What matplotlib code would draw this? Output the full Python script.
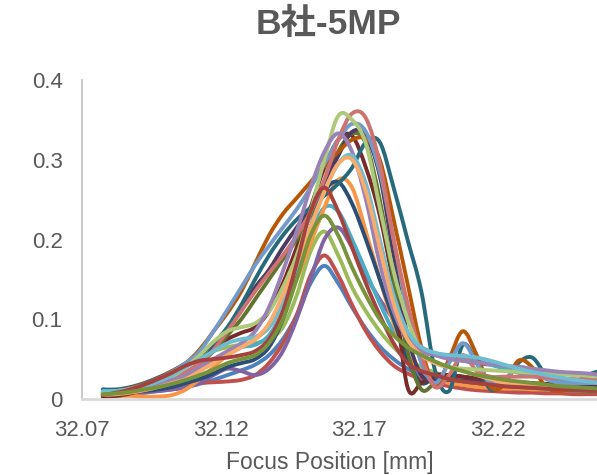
import numpy as np
import matplotlib
matplotlib.use("Agg")
import matplotlib.pyplot as plt
from matplotlib.path import Path
from matplotlib.patches import PathPatch

plt.rcParams['font.family'] = ['Liberation Sans', 'Noto Sans CJK JP']

# focus positions [mm], 0.005 mm step
focus = np.round(32.0775 + 0.005 * np.arange(37), 4)

s_blue = [.004, .005, .006, .008, .010, .012, .015, .019, .024, .030,
          .036, .043, .055, .075, .105, .145, .167, .145, .115, .088,
          .066, .050, .038, .030, .025, .021, .018, .016, .014, .013,
          .012, .011, .010, .010, .009, .009, .008]
s_red = [.003, .004, .006, .009, .013, .016, .018, .020, .021, .022,
         .024, .030, .045, .070, .105, .155, .180, .155, .118, .085,
         .060, .042, .032, .025, .020, .016, .013, .011, .010, .009,
         .008, .008, .007, .007, .006, .006, .006]
s_green = [.008, .010, .013, .018, .024, .032, .042, .052, .060, .065,
           .068, .070, .075, .090, .130, .185, .210, .180, .140, .110,
           .085, .065, .050, .040, .033, .028, .024, .020, .018, .016,
           .015, .014, .013, .013, .012, .012, .012]
s_purple = [.004, .005, .006, .008, .010, .012, .015, .020, .030, .038,
            .035, .030, .038, .060, .100, .150, .200, .215, .190, .155,
            .125, .100, .080, .065, .057, .052, .048, .045, .043, .041,
            .039, .037, .035, .033, .031, .029, .027]
s_aqua = [.012, .010, .010, .012, .016, .022, .030, .040, .050, .058,
          .065, .068, .080, .110, .155, .205, .240, .235, .200, .160,
          .120, .085, .065, .058, .055, .055, .052, .048, .043, .038,
          .033, .029, .026, .023, .020, .018, .017]
s_orange = [.005, .004, .004, .003, .003, .005, .012, .025, .040, .055,
            .065, .075, .090, .115, .150, .195, .240, .275, .265, .210,
            .150, .095, .055, .035, .025, .020, .018, .015, .014, .013,
            .013, .012, .012, .011, .011, .010, .010]
s_dkblue = [.005, .006, .008, .010, .012, .015, .020, .025, .032, .040,
            .045, .050, .065, .100, .155, .215, .260, .272, .245, .200,
            .150, .100, .050, .020, .028, .030, .028, .025, .022, .020,
            .018, .017, .016, .015, .014, .014, .013]
s_maroon = [.003, .004, .007, .012, .018, .024, .032, .045, .062, .075,
            .083, .090, .110, .145, .190, .240, .290, .325, .330, .290,
            .230, .140, .015, .020, .030, .030, .028, .026, .024, .022,
            .021, .020, .019, .018, .017, .016, .015]
s_olive = [.008, .010, .012, .016, .020, .026, .033, .045, .060, .080,
           .100, .125, .150, .175, .200, .230, .270, .310, .333, .320,
           .250, .150, .060, .012, .020, .025, .022, .020, .018, .016,
           .015, .014, .013, .012, .011, .010, .010]
s_dkpurple = [.006, .008, .010, .014, .019, .025, .033, .045, .065, .088,
              .115, .140, .162, .190, .215, .240, .270, .305, .335, .330,
              .280, .180, .080, .030, .025, .024, .023, .022, .021, .020,
              .019, .018, .017, .016, .015, .015, .014]
s_teal = [.012, .012, .015, .020, .027, .035, .045, .055, .070, .090,
          .118, .150, .180, .205, .225, .240, .255, .270, .290, .322,
          .322, .265, .200, .135, .035, .010, .068, .045, .012, .020,
          .045, .052, .030, .018, .020, .030, .036]
s_brown = [.008, .010, .014, .019, .026, .035, .045, .062, .085, .108,
           .135, .170, .205, .232, .252, .272, .292, .310, .325, .326,
           .300, .225, .145, .065, .015, .050, .085, .055, .015, .018,
           .048, .040, .015, .010, .015, .028, .032]
s_ltblue = [.008, .010, .013, .018, .025, .034, .045, .060, .085, .112,
            .140, .168, .192, .215, .238, .265, .295, .325, .345, .335,
            .285, .200, .110, .045, .020, .045, .070, .045, .020, .025,
            .040, .035, .025, .020, .020, .020, .020]
s_salmon = [.006, .008, .011, .015, .020, .026, .034, .045, .062, .085,
            .110, .135, .158, .180, .205, .235, .275, .325, .358, .352,
            .295, .200, .120, .055, .015, .030, .055, .035, .028, .028,
            .028, .028, .027, .026, .025, .024, .023]
s_ltgreen = [.008, .010, .012, .015, .020, .028, .040, .055, .072, .085,
             .090, .095, .110, .140, .180, .235, .300, .355, .350, .320,
             .240, .160, .100, .060, .045, .040, .038, .037, .036, .035,
             .034, .033, .032, .031, .030, .029, .028]
s_ltpurple = [.006, .007, .010, .013, .018, .024, .030, .040, .050, .060,
              .070, .085, .115, .160, .210, .265, .310, .333, .310, .250,
              .170, .110, .075, .060, .055, .050, .048, .046, .044, .042,
              .040, .038, .036, .034, .033, .032, .030]
s_ltaqua = [.010, .010, .012, .016, .022, .030, .040, .050, .060, .070,
            .075, .078, .090, .120, .165, .215, .260, .295, .305, .270,
            .200, .130, .085, .065, .058, .055, .054, .052, .048, .043,
            .038, .034, .030, .027, .024, .022, .020]
s_ltorange = [.005, .006, .008, .011, .015, .020, .025, .035, .045, .055,
              .065, .075, .095, .130, .170, .215, .260, .295, .300, .260,
              .190, .120, .075, .055, .045, .040, .035, .030, .025, .020,
              .018, .016, .015, .014, .013, .012, .012]
s_midred = [.005, .008, .012, .018, .025, .033, .042, .048, .050, .052,
            .055, .060, .075, .110, .170, .235, .265, .235, .190, .145,
            .105, .070, .045, .035, .030, .025, .022, .020, .018, .016,
            .015, .014, .013, .012, .012, .011, .011]
s_green2 = [.006, .007, .009, .012, .015, .019, .024, .030, .037, .045,
            .050, .055, .070, .100, .150, .205, .230, .205, .165, .130,
            .100, .080, .065, .055, .047, .040, .035, .030, .027, .024,
            .022, .020, .018, .016, .015, .014, .013]

series = [s_blue, s_red, s_green, s_purple, s_aqua, s_orange,
          s_dkblue, s_maroon, s_olive, s_dkpurple, s_teal, s_brown,
          s_ltblue, s_salmon, s_ltgreen, s_ltpurple, s_ltaqua, s_ltorange,
          s_midred, s_green2]
colors = ['#4F81BD', '#C0504D', '#9BBB59', '#8064A2', '#4BACC6', '#F79646',
          '#2C4D75', '#772C2A', '#5F7530', '#4D3B62', '#276A7C', '#B65708',
          '#729ACA', '#CD7371', '#AFC97A', '#9983B5', '#6FBDD1', '#F9AB6B',
          '#A5423F', '#77933C']


def smooth_path(x, y):
    # excel-like smoothed line (bezier through the points)
    p = np.column_stack([x, y])
    n = len(p)
    verts = [p[0]]
    codes = [Path.MOVETO]
    for i in range(n - 1):
        p0 = p[i - 1] if i > 0 else p[i]
        p3 = p[i + 2] if i + 2 < n else p[i + 1]
        c1 = p[i] + (p[i + 1] - p0) / 6
        c2 = p[i + 1] - (p3 - p[i]) / 6
        verts += [c1, c2, p[i + 1]]
        codes += [Path.CURVE4] * 3
    return Path(verts, codes)


fig = plt.figure(figsize=(5.97, 4.75), dpi=100)
ax = fig.add_axes([82 / 597, 76 / 475, 1 - 82 / 597, 319 / 475])

for vals, c in zip(series, colors):
    ax.add_patch(PathPatch(smooth_path(focus, vals), fill=False, edgecolor=c,
                           lw=2.8, capstyle='round', joinstyle='round'))

ax.set_xlim(32.07, 32.07 + 515 / 2770)
ax.set_ylim(0, 0.4)
ax.set_xticks([32.07, 32.12, 32.17, 32.22])
ax.set_xticklabels(['32.07', '32.12', '32.17', '32.22'])
ax.set_yticks([0, 0.1, 0.2, 0.3, 0.4])
ax.set_yticklabels(['0', '0.1', '0.2', '0.3', '0.4'])
ax.tick_params(length=0, labelsize=16, labelcolor='#595959')
ax.tick_params(axis='x', pad=15)
ax.tick_params(axis='y', pad=14)
for s in ['top', 'right']:
    ax.spines[s].set_visible(False)
ax.spines['left'].set_color('#BFBFBF')
ax.spines['left'].set_linewidth(1.2)
ax.spines['bottom'].set_color('#D9D9D9')
ax.spines['bottom'].set_linewidth(2)

fig.text(328 / 597, 1 - 24 / 475, 'B社-5MP', ha='center', va='center',
         fontsize=25.5, fontweight='bold', color='#595959')
fig.text(330 / 597, 1 - 462 / 475, 'Focus Position [mm]', ha='center',
         va='center', fontsize=16.5, color='#595959')

fig.savefig('out.png', dpi=100)
